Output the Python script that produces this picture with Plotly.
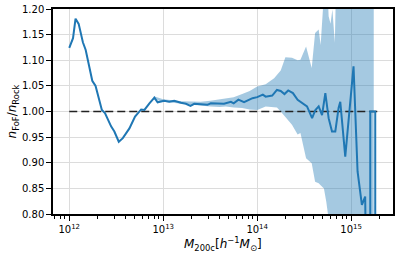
import plotly.graph_objects as go

# log10 of M200c [h^-1 Msun] and ratio n_FoF / n_Rock
line_logm = [12.00, 12.04, 12.067, 12.10, 12.145, 12.175, 12.245, 12.28, 12.347, 12.38,
             12.445, 12.48, 12.527, 12.57, 12.64, 12.70, 12.765, 12.80, 12.853, 12.906,
             12.94, 13.01, 13.064, 13.117, 13.188, 13.241, 13.29, 13.33, 13.40, 13.47,
             13.506, 13.577, 13.647, 13.72, 13.75, 13.80, 13.86, 13.95, 14.00, 14.06,
             14.09, 14.16, 14.21, 14.25, 14.29, 14.33, 14.38, 14.43, 14.48, 14.53,
             14.584, 14.619, 14.654, 14.690, 14.725, 14.760, 14.796, 14.831, 14.866, 14.884,
             14.937, 15.025, 15.068, 15.114, 15.149, 15.165, 15.203, 15.203, 15.256, 15.256]
line_ratio = [1.124, 1.143, 1.181, 1.171, 1.135, 1.120, 1.060, 1.050, 1.003, 0.997,
              0.971, 0.961, 0.941, 0.948, 0.967, 0.990, 1.004, 1.003, 1.016, 1.027,
              1.018, 1.021, 1.019, 1.021, 1.017, 1.015, 1.011, 1.015, 1.014, 1.013,
              1.016, 1.015, 1.015, 1.019, 1.016, 1.023, 1.018, 1.026, 1.028, 1.033,
              1.029, 1.031, 1.042, 1.040, 1.034, 1.041, 1.036, 1.023, 1.016, 1.010,
              0.987, 1.003, 1.010, 0.993, 1.036, 0.987, 0.961, 0.961, 1.007, 1.019,
              0.912, 1.088, 0.883, 0.818, 0.834, 0.0, 0.0, 1.0, 1.0, 0.0]

band_logm = [12.90, 13.00, 13.20, 13.40, 13.50, 13.60, 13.665, 13.75, 13.84, 13.92,
             14.00, 14.09, 14.18, 14.21, 14.25, 14.30, 14.37, 14.43, 14.46, 14.52,
             14.58, 14.616, 14.654, 14.675, 14.71, 14.735, 14.76, 14.78, 14.80, 14.826,
             14.845, 14.90, 15.00, 15.10, 15.20, 15.24]
band_lower = [1.024, 1.019, 1.015, 1.011, 1.010, 1.009, 1.010, 1.008, 1.007, 1.004,
              1.003, 1.010, 1.009, 1.008, 1.000, 0.990, 0.974, 0.955, 0.958, 0.909,
              0.899, 0.863, 0.860, 0.856, 0.850, 0.824, 0.79, 0.70, 0.60, 0.50,
              0.50, 0.50, 0.50, 0.50, 0.50, 0.50]
band_upper = [1.030, 1.024, 1.020, 1.019, 1.021, 1.024, 1.026, 1.028, 1.034, 1.040,
              1.049, 1.053, 1.065, 1.072, 1.080, 1.106, 1.105, 1.100, 1.101, 1.127,
              1.085, 1.153, 1.160, 1.130, 1.199, 1.30, 1.186, 1.171, 1.199, 1.134,
              1.30, 1.40, 1.40, 1.40, 1.40, 1.40]

ref_logm = [12.0, 15.28]
ref_ratio = [1.0, 1.0]

x_tick_exps = [12, 13, 14, 15]
y_ticks = [0.80, 0.85, 0.90, 0.95, 1.00, 1.05, 1.10, 1.15, 1.20]

line_mass = [10 ** v for v in line_logm]
band_mass = [10 ** v for v in band_logm]
ref_mass = [10 ** v for v in ref_logm]
minor_vals = [m * 10 ** e for e in [11, 12, 13, 14, 15] for m in range(2, 10)]

blue = "#1f77b4"
fig = go.Figure()
fig.add_trace(go.Scatter(x=band_mass, y=band_lower, mode="lines",
                         line=dict(width=0, color=blue), showlegend=False, hoverinfo="skip"))
fig.add_trace(go.Scatter(x=band_mass, y=band_upper, mode="lines", fill="tonexty",
                         fillcolor="rgba(31,119,180,0.4)",
                         line=dict(width=0, color=blue), showlegend=False, hoverinfo="skip"))
fig.add_trace(go.Scatter(x=ref_mass, y=ref_ratio, mode="lines",
                         line=dict(color="#222222", width=1.5, dash="8px,4px"), showlegend=False))
fig.add_trace(go.Scatter(x=line_mass, y=line_ratio, mode="lines",
                         line=dict(color=blue, width=2), showlegend=False))

axis_font = dict(family="DejaVu Sans", size=10, color="black")
fig.update_layout(
    width=399, height=256,
    margin=dict(l=53, r=6, t=9, b=42, autoexpand=False),
    paper_bgcolor="white", plot_bgcolor="white",
    font=dict(family="DejaVu Sans", size=10, color="black"),
    annotations=[
        dict(text="<i>M</i><sub>200c</sub>[<i>h</i><sup>−1</sup><i>M</i><sub>⊙</sub>]",
             xref="paper", yref="paper", x=0.5, y=-0.095, xanchor="center", yanchor="top",
             showarrow=False, font=dict(family="DejaVu Sans", size=12)),
        dict(text="<i>n</i><sub>FoF</sub>/<i>n</i><sub>Rock</sub>",
             xref="paper", yref="paper", x=-0.118, y=0.5, xanchor="center", yanchor="middle",
             textangle=-90, showarrow=False, font=dict(family="DejaVu Sans", size=12)),
    ],
)
fig.update_xaxes(
    type="log", range=[11.827, 15.445], automargin=False,
    tickvals=[10 ** e for e in x_tick_exps],
    ticktext=["10<sup>%d</sup>" % e for e in x_tick_exps],
    ticks="outside", ticklen=5, tickwidth=1, tickcolor="black",
    tickfont=axis_font,
    minor=dict(tickvals=minor_vals, ticks="outside", ticklen=3, tickwidth=1,
               tickcolor="black", showgrid=False),
    showgrid=True, gridcolor="#dcdcdc", gridwidth=0.8,
    showline=True, linecolor="black", linewidth=1.5, mirror=True,
    zeroline=False,
)
fig.update_yaxes(
    range=[0.8, 1.2], tickvals=y_ticks, ticktext=["%.2f" % v for v in y_ticks],
    automargin=False,
    ticks="outside", ticklen=5, tickwidth=1, tickcolor="black",
    tickfont=axis_font,
    showgrid=True, gridcolor="#dcdcdc", gridwidth=0.8,
    showline=True, linecolor="black", linewidth=1.5, mirror=True,
    zeroline=False,
)
fig.write_html("out.html", config={"displayModeBar": False},
               post_script="document.body.style.margin='0px';")
